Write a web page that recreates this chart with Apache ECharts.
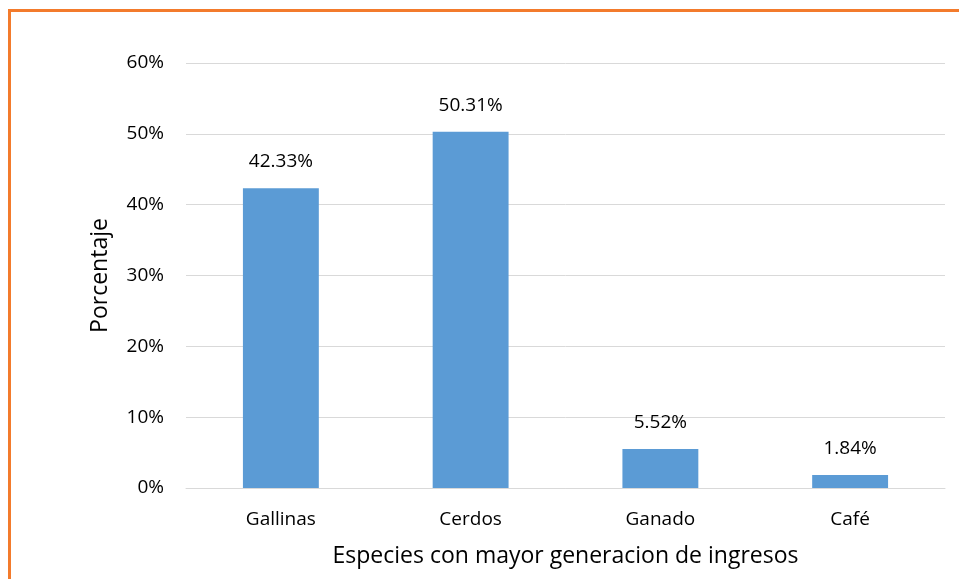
<!DOCTYPE html>
<html><head><meta charset="utf-8">
<script src="https://cdn.jsdelivr.net/npm/echarts@6/dist/echarts.min.js"></script>
<style>html,body{margin:0;padding:0;background:#fff}#c{width:959px;height:579px}</style>
</head><body><div id="c"></div>
<script>
const categories = ['Gallinas', 'Cerdos', 'Ganado', 'Café'];
const values = [42.33, 50.31, 5.52, 1.84];
const yTicks = [0, 10, 20, 30, 40, 50, 60];
const xTitle = 'Especies con mayor generacion de ingresos';
const yTitle = 'Porcentaje';

const font = 'Open Sans, Noto Sans, sans-serif';
const chart = echarts.init(document.getElementById('c'), null, {renderer: 'canvas'});
chart.setOption({
  animation: false,
  backgroundColor: '#fff',
  graphic: [{
    type: 'rect', z: 100, silent: true,
    shape: {x: 9.5, y: 10.5, width: 1000, height: 600},
    style: {fill: 'none', stroke: '#F37B2C', lineWidth: 3}
  }],
  grid: {left: 186, right: 14, top: 63, bottom: 91},
  xAxis: {
    type: 'category', data: categories,
    axisLine: {lineStyle: {color: '#d9d9d9', width: 1}},
    axisTick: {show: false},
    axisLabel: {color: '#000', fontSize: 19, fontFamily: font, margin: 22},
    name: xTitle, nameLocation: 'middle', nameGap: 57,
    nameTextStyle: {color: '#000', fontSize: 23, fontFamily: font}
  },
  yAxis: {
    type: 'value', min: yTicks[0], max: yTicks[yTicks.length - 1], interval: 10,
    axisLine: {show: false}, axisTick: {show: false},
    splitLine: {lineStyle: {color: '#d9d9d9', width: 1}},
    axisLabel: {color: '#000', fontSize: 19, fontFamily: font, margin: 22, formatter: v => v + '%'},
    name: yTitle, nameLocation: 'middle', nameGap: 74,
    nameTextStyle: {color: '#000', fontSize: 23, fontFamily: font}
  },
  series: [{
    type: 'bar', data: values, barWidth: '40%',
    itemStyle: {color: '#5B9BD5'},
    label: {show: true, position: 'top', distance: 17, color: '#000', fontSize: 19, fontFamily: font,
      formatter: p => p.value.toFixed(2) + '%'}
  }]
});
</script></body></html>
